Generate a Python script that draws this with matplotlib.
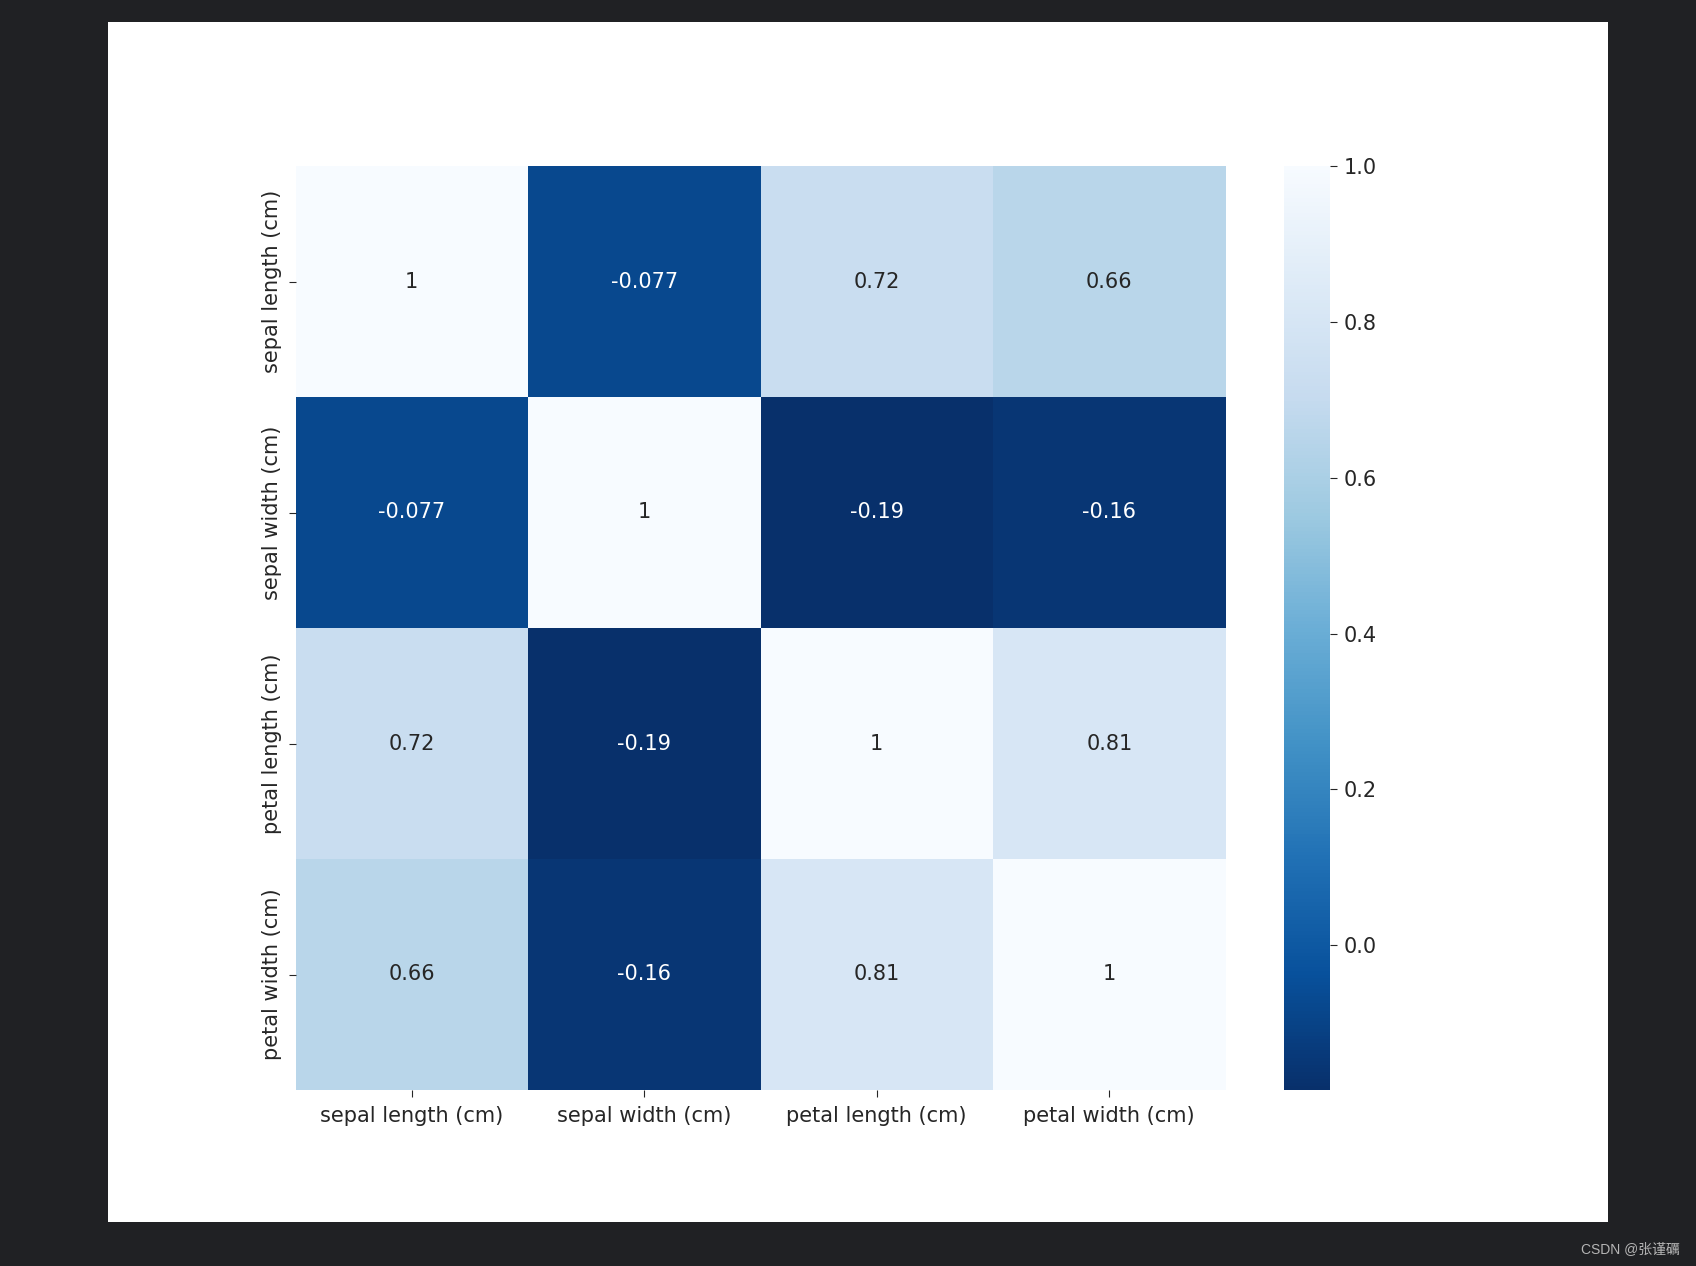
import matplotlib
matplotlib.use("Agg")
import matplotlib.pyplot as plt
import numpy as np
import pandas as pd
import seaborn as sns
from matplotlib.patches import Rectangle

features = ["sepal length (cm)", "sepal width (cm)", "petal length (cm)", "petal width (cm)"]
row_sepal_length = [1.0, -0.0770, 0.7185, 0.6553]
row_sepal_width = [-0.0770, 1.0, -0.1856, -0.1571]
row_petal_length = [0.7185, -0.1856, 1.0, 0.8069]
row_petal_width = [0.6553, -0.1571, 0.8069, 1.0]
watermark = "CSDN @张谨礪"

corr = pd.DataFrame([row_sepal_length, row_sepal_width, row_petal_length, row_petal_width],
                    index=features, columns=features)

W, H = 1696, 1266
fig = plt.figure(figsize=(W / 100, H / 100), dpi=100)
fig.patch.set_facecolor("#202124")

# inner white figure (1500x1200 px) offset at (108, 22) from top-left
ox, oy, iw, ih = 108, 22, 1500, 1200
fig.patches.append(Rectangle((ox / W, 1 - (oy + ih) / H), iw / W, ih / H,
                             transform=fig.transFigure, facecolor="white",
                             edgecolor="none", zorder=-10))

ax_l = ox + 0.125 * iw
ax_w = 930
ax_top = oy + 0.12 * ih
ax_bot = oy + ih - 0.11 * ih
ax = fig.add_axes([ax_l / W, 1 - ax_bot / H, ax_w / W, (ax_bot - ax_top) / H])

cb_l = ox + (0.125 + 0.775 * 0.85) * iw
cb_w = (ax_bot - ax_top) / 20
cax = fig.add_axes([cb_l / W, 1 - ax_bot / H, cb_w / W, (ax_bot - ax_top) / H])

sns.heatmap(corr, annot=True, cmap="Blues_r", ax=ax, cbar_ax=cax,
            annot_kws={"fontsize": 15})
txt_col = "#262626"
ax.tick_params(labelsize=15, labelcolor=txt_col, color=txt_col, length=5, pad=5)
ax.tick_params(axis="x", pad=6.5)
cax.tick_params(labelsize=15, labelcolor=txt_col, color=txt_col, length=5, pad=5)

fig.text((W - 16) / W, 1 - 1249 / H, watermark, ha="right", va="center",
         fontsize=10, color="#b5b5b5",
         family=["Liberation Sans", "Noto Sans CJK SC"])

fig.savefig("out.png", dpi=100, facecolor=fig.get_facecolor())
